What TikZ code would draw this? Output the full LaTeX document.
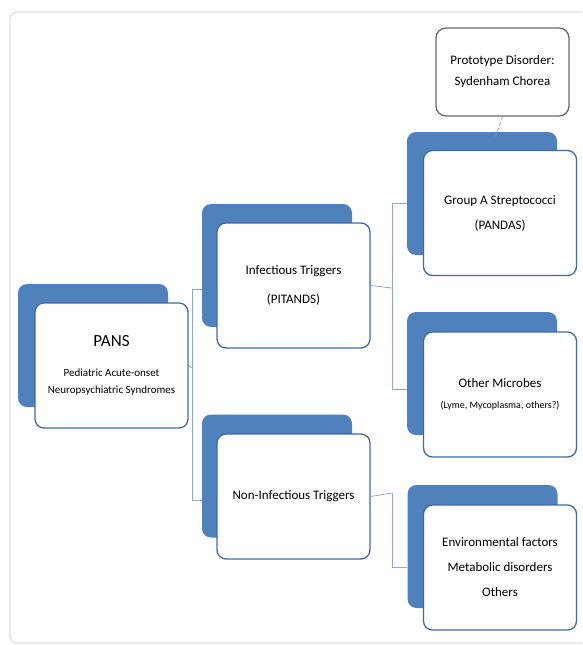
\documentclass[tikz,border=0pt]{standalone}
\usepackage{fontspec}
\setmainfont{Carlito}
\usetikzlibrary{calc}

\definecolor{boxblue}{RGB}{79,129,189}
\definecolor{boxedge}{RGB}{62,106,163}
\definecolor{linkblue}{RGB}{140,168,206}
\definecolor{framegray}{RGB}{222,222,222}
\definecolor{protogray}{RGB}{105,105,105}

\tikzset{
	backbox/.style={fill=boxblue, rounded corners=9pt, minimum width=150pt, minimum height=123pt, inner sep=0pt},
	frontbox/.style={draw=boxedge, line width=1.3pt, fill=white, rounded corners=9pt, minimum width=153pt, minimum height=125pt, align=center, inner sep=2pt, font=\fontsize{13}{25}\selectfont},
	link/.style={draw=linkblue, line width=0.8pt},
	protobox/.style={draw=protogray, line width=1.3pt, fill=white, rounded corners=10pt, minimum width=133pt, minimum height=88pt, align=center, font=\fontsize{13}{25}\selectfont}
}

\begin{document}
\begin{tikzpicture}[x=1pt, y=-1pt]
\clip (0,0) rectangle (582,645);
% Rahmen
\draw[framegray, line width=1.2pt, rounded corners=7pt] (10,12) rectangle (620,643);

% Wurzel
\node[backbox] (pansback) at (93,345.5) {};
\node[frontbox] (pans) at (111.5,365.5) {{\fontsize{17}{20}\selectfont PANS}\\[5pt]
	{\fontsize{11}{17}\selectfont Pediatric Acute-onset}\\[-8pt]
	{\fontsize{11}{17}\selectfont Neuropsychiatric Syndromes}};

% Mittlere Ebene
\node[backbox] (infback) at (277,265.5) {};
\node[frontbox] (inf) at (293.5,285.5) {Infectious Triggers\\[4pt](PITANDS)};
\node[backbox] (nonback) at (277,476) {};
\node[frontbox] (non) at (293.5,496.5) {Non-Infectious Triggers};

% Rechte Ebene
\node[backbox] (grpback) at (482,193.5) {};
\node[frontbox] (grp) at (500,213) {Group A Streptococci\\(PANDAS)};
\node[backbox] (othback) at (482,373.5) {};
\node[frontbox] (oth) at (500,394.5) {Other Microbes\\[-4pt]{\fontsize{10}{15}\selectfont (Lyme, Mycoplasma, others?)}};
\node[backbox] (envback) at (482.5,546.5) {};
\node[frontbox] (env) at (500,567.5) {Environmental factors\\Metabolic disorders\\Others};

% Prototyp
\node[protobox] (proto) at (502.5,72) {Prototype Disorder:\\[-4pt]Sydenham Chorea};
\coordinate (protoend) at (495,138);
\draw[protogray!70, dashed, line width=0.8pt] (proto.south) -- (protoend);

% Verbindungen
\coordinate (fork1) at (192,368);
\coordinate (fork2) at (392,288);
\coordinate (fork3) at (392,493);
\begin{scope}[link]
	\draw (pans.east) -- (fork1);
	\draw (fork1) |- (infback.west |- 0,289);
	\draw (fork1) |- (nonback.west |- 0,500);
	\draw (inf.east) -- (fork2);
	\draw (fork2) |- (grpback.west |- 0,203);
	\draw (fork2) |- (othback.west |- 0,389);
	\draw (non.east) -- (fork3);
	\draw (fork3) |- (envback.west |- env.west);
\end{scope}
\end{tikzpicture}
\end{document}
